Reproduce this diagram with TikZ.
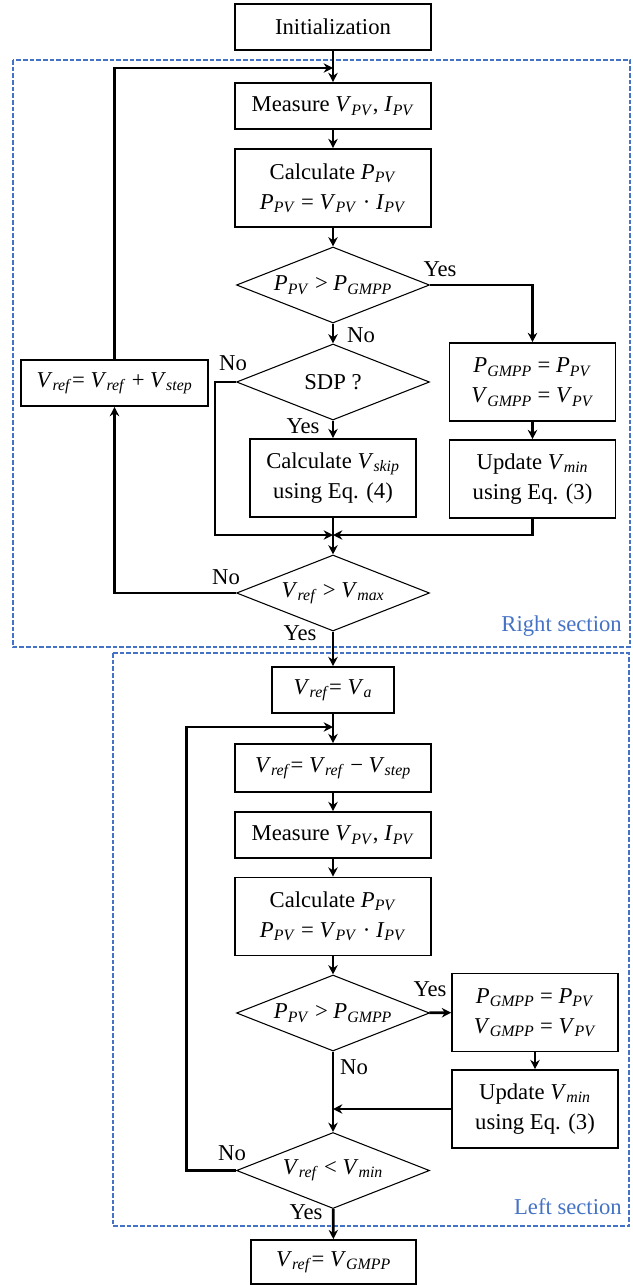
\documentclass[tikz,border=0pt]{standalone}
\usepackage{fontspec}
\setmainfont{Liberation Serif}
\usetikzlibrary{shapes.geometric,arrows.meta}
\definecolor{secblue}{RGB}{68,114,196}
\newcommand{\Vsub}[1]{\textit{V}\textsubscript{\textit{#1}}}
\newcommand{\Psub}[1]{\textit{P}\textsubscript{\textit{#1}}}
\newcommand{\Isub}[1]{\textit{I}\textsubscript{\textit{#1}}}

\begin{document}
\begin{tikzpicture}[x=0.75pt,y=-0.75pt,
  every node/.style={font=\fontsize{17}{22.5}\selectfont},
  box/.style={draw,line width=1.2pt,align=center,inner sep=0pt,minimum width=147pt,minimum height=34.5pt},
  tall/.style={box,minimum height=58.5pt},
  decision/.style={diamond,draw,line width=0.8pt,aspect=2.54,inner sep=0pt,minimum width=144.75pt,minimum height=57pt},
  flow/.style={draw,line width=2pt,-{Stealth[length=7pt,width=7pt]}},
  frame/.style={draw=secblue,line width=0.8pt,dash pattern=on 3.5pt off 1.5pt},
  seclabel/.style={text=secblue,inner sep=0pt,anchor=east},
  answer/.style={inner sep=0pt}]
  \useasboundingbox (0,0) rectangle (632,1285);

  \draw[frame] (13,60) rectangle (630,647);
  \draw[frame] (113,653) rectangle (629,1226);
  \node[seclabel] (rsec) at (622,626) {Right section};
  \node[seclabel] (lsec) at (622,1207) {Left section};

  \node[box] (init) at (333,27) {Initialization};
  \node[box] (meas1) at (333,106) {Measure \Vsub{PV}, \Isub{PV}};
  \node[tall] (calc1) at (333,188) {Calculate \Psub{PV}\\ \Psub{PV} = \Vsub{PV} · \Isub{PV}};
  \node[decision] (dia1) at (333,285) {\Psub{PV} > \Psub{GMPP}};
  \node[decision] (sdp) at (333,382) {SDP ?};
  \node[tall,minimum width=124.5pt] (skip) at (333,478) {Calculate \Vsub{skip}\\ using Eq. (4)};
  \node[decision] (dia3) at (333,593) {\Vsub{ref} > \Vsub{max}};
  \node[box,minimum width=140.25pt] (vstep) at (114.5,383) {\Vsub{ref}= \Vsub{ref} + \Vsub{step}};
  \node[tall,minimum width=124.5pt] (pg1) at (532.5,382) {\Psub{GMPP} = \Psub{PV}\\ \Vsub{GMPP} = \Vsub{PV}};
  \node[tall,minimum width=124.5pt] (upd1) at (532.5,479) {Update \Vsub{min}\\ using Eq. (3)};

  \node[box,minimum width=91.5pt] (va) at (333,690) {\Vsub{ref}= \Vsub{a}};
  \node[box,minimum height=36pt] (step) at (333,768) {\Vsub{ref}= \Vsub{ref} − \Vsub{step}};
  \node[box] (meas2) at (333,835) {Measure \Vsub{PV}, \Isub{PV}};
  \node[tall] (calc2) at (333,916.5) {Calculate \Psub{PV}\\ \Psub{PV} = \Vsub{PV} · \Isub{PV}};
  \node[decision] (dia4) at (333,1013) {\Psub{PV} > \Psub{GMPP}};
  \node[tall,minimum width=124.5pt] (pg2) at (535,1012.5) {\Psub{GMPP} = \Psub{PV}\\ \Vsub{GMPP} = \Vsub{PV}};
  \node[tall,minimum width=124.5pt] (upd2) at (535,1109) {Update \Vsub{min}\\ using Eq. (3)};
  \node[decision] (dia5) at (333,1170.5) {\Vsub{ref} < \Vsub{min}};
  \node[box,minimum width=123.75pt,minimum height=33pt] (gmpp) at (333.5,1262) {\Vsub{ref}= \Vsub{GMPP}};

  \coordinate (loop1) at (333,68);
  \coordinate (merge1) at (333,535);
  \coordinate (loop2) at (333,727);
  \coordinate (merge2) at (333,1109);

  \path[every edge/.style={flow}]
    (init) edge (meas1)
    (meas1) edge (calc1)
    (calc1) edge (dia1)
    (dia1) edge (sdp)
    (sdp) edge (skip)
    (skip) edge (dia3)
    (pg1) edge (upd1)
    (dia3) edge (va)
    (va) edge (step)
    (step) edge (meas2)
    (meas2) edge (calc2)
    (calc2) edge (dia4)
    (dia4) edge (pg2)
    (pg2) edge (upd2)
    (dia4) edge (dia5)
    (dia5) edge (gmpp);
  \draw[flow] (dia1.east) -| (pg1.north);
  \draw[flow] (sdp.west) -- ++(-21,0) |- (merge1);
  \draw[flow] (upd1.south) |- (merge1);
  \draw[flow] (dia3.west) -| (vstep.south);
  \draw[flow] (vstep.north) |- (loop1);
  \draw[flow] (dia5.west) -- ++(-49.5,0) |- (loop2);
  \draw[flow] (upd2.west) -- (merge2);

  \node[answer] (yes1) at (440,269) {Yes};
  \node[answer] (no1) at (361,335) {No};
  \node[answer] (no2) at (233,363) {No};
  \node[answer] (yes2) at (303,426) {Yes};
  \node[answer] (no3) at (226,577) {No};
  \node[answer] (yes3) at (300,633) {Yes};
  \node[answer] (yes4) at (430,989) {Yes};
  \node[answer] (no4) at (354,1067) {No};
  \node[answer] (no5) at (232,1153) {No};
  \node[answer] (yes5) at (306,1212) {Yes};
\end{tikzpicture}
\end{document}
